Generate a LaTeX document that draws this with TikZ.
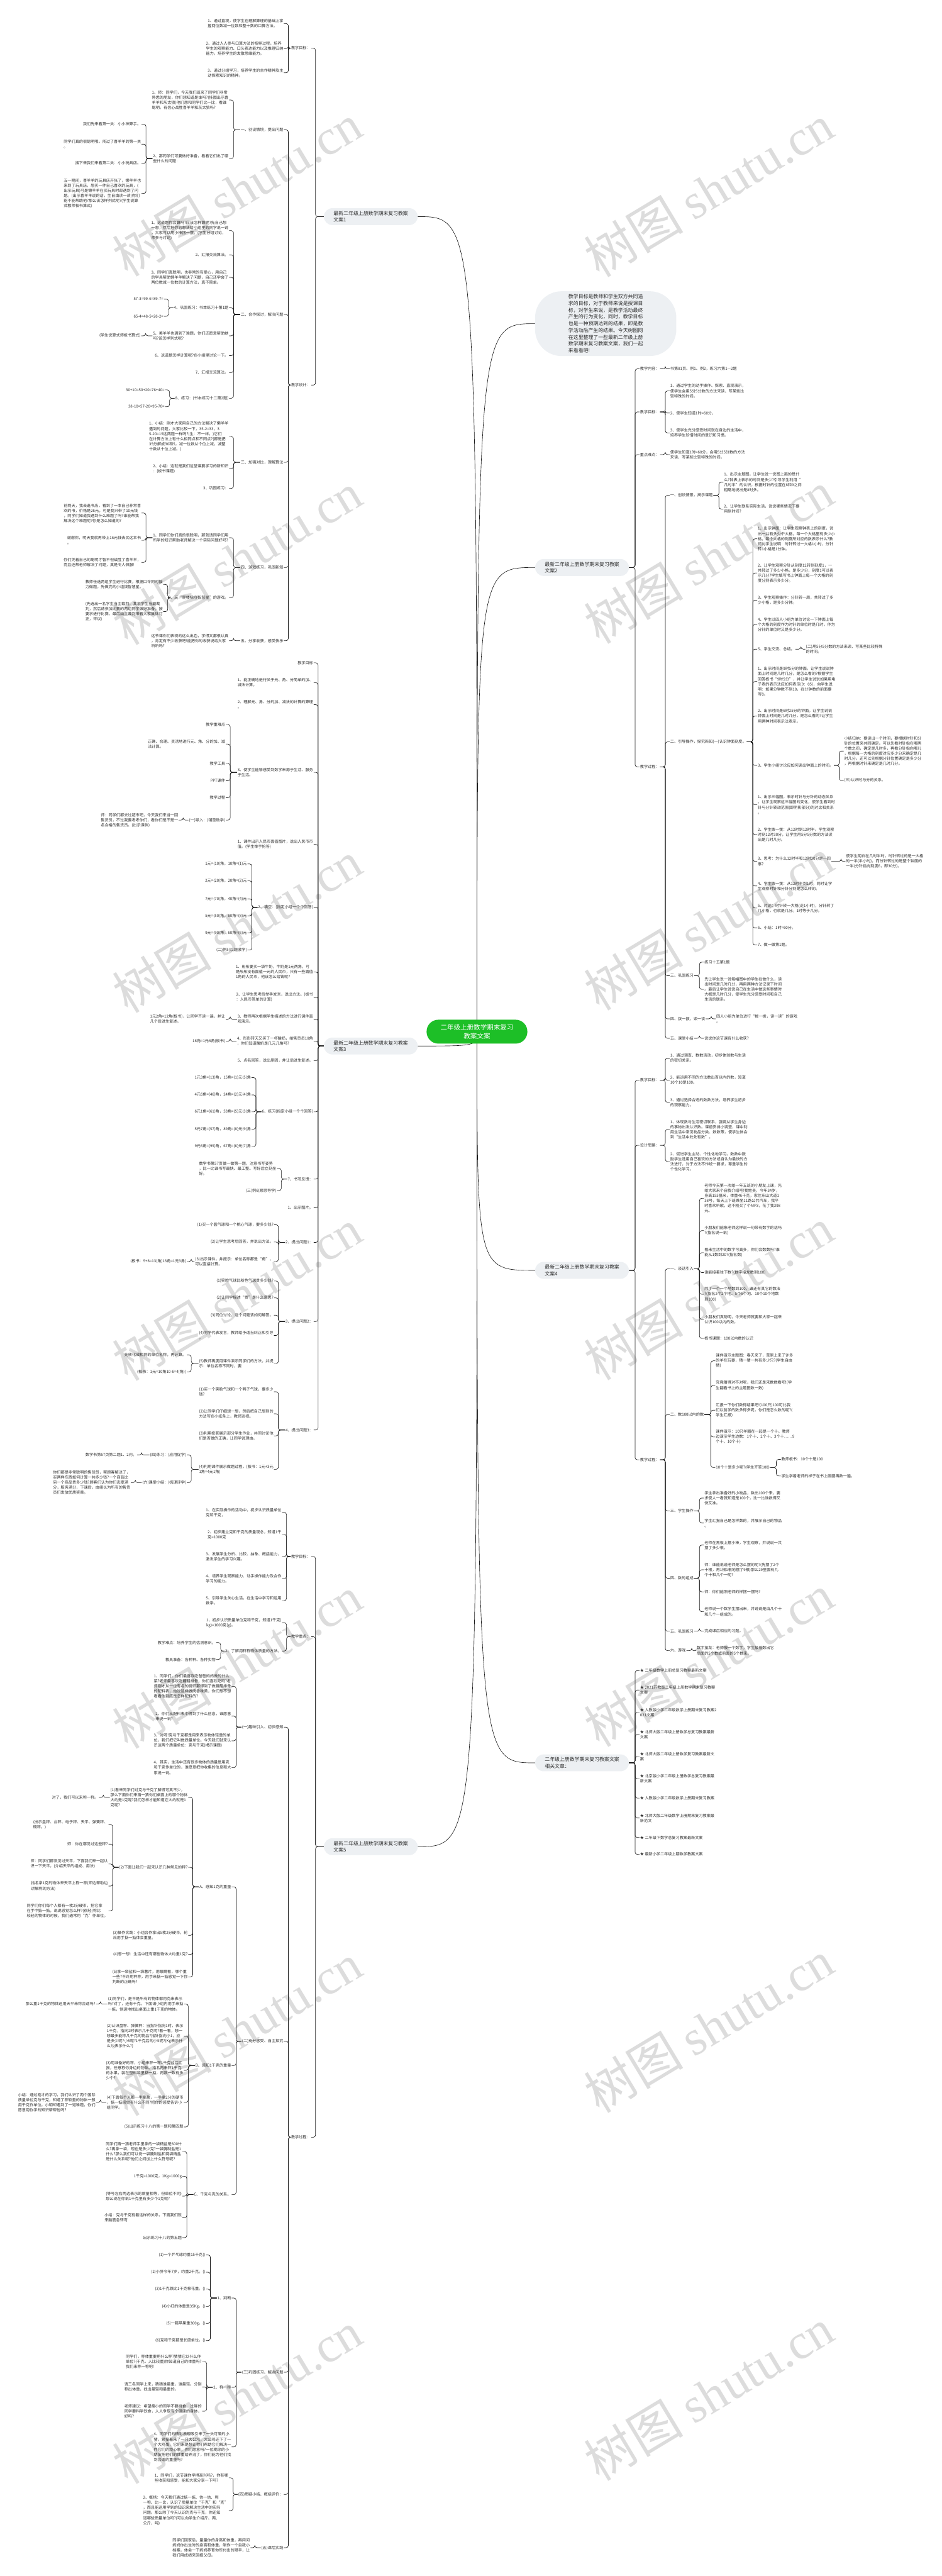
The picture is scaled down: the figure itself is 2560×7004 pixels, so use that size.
\documentclass[tikz,border=0pt]{standalone}
\usepackage{fontspec}
\setmainfont{Noto Sans CJK SC}
\newfontfamily\wmfont{Liberation Serif}
\usetikzlibrary{backgrounds}
\definecolor{txt}{RGB}{45,45,45}
\definecolor{linec}{RGB}{25,25,25}
\definecolor{lvlfill}{RGB}{237,240,243}
\definecolor{rootfill}{RGB}{29,191,39}
\definecolor{wmc}{RGB}{220,220,220}
\tikzset{
 leaf/.style={font=\fontsize{10.5}{13.8}\selectfont, align=left, text=txt, inner sep=1.5pt},
 lvl/.style={fill=lvlfill, rounded corners=23pt, minimum width=255pt, minimum height=46pt, font=\fontsize{13.5}{17.6}\selectfont, align=left, text=txt, inner xsep=22pt},
 rootnode/.style={fill=rootfill, rounded corners=32pt, minimum width=274pt, minimum height=65pt, font=\fontsize{18}{24.5}\selectfont, align=center, text=white},
 intronode/.style={fill=lvlfill, rounded corners=72pt, minimum width=384pt, minimum height=176pt, font=\fontsize{13.5}{18.4}\selectfont, align=left, text=txt},
 conn/.style={draw=linec, line width=1.1pt, rounded corners=6pt},
 rc/.style={to path={(\tikztostart.east) -| ([xshift=-12pt]\tikztotarget.west) -- (\tikztotarget.west)}},
 lc/.style={to path={(\tikztostart.west) -| ([xshift=12pt]\tikztotarget.east) -- (\tikztotarget.east)}},
 wm/.style={rotate=31, text=wmc, font=\fontsize{135}{135}\selectfont, inner sep=0pt},
}
\newcommand\nodeR[4]{\node[leaf,anchor=west] (#1) at (#2,#3) {#4};}
\newcommand\nodeL[4]{\node[leaf,anchor=east] (#1) at (#2,#3) {#4};}
\newcommand\conR[2]{\foreach \q in {#2}{\draw[conn] (#1) to[rc] (\q);}}
\newcommand\conL[2]{\foreach \q in {#2}{\draw[conn] (#1) to[lc] (\q);}}
\begin{document}
\begin{tikzpicture}[x=1pt,y=-1pt]
\useasboundingbox (0,0) rectangle (2560,7004);
% ---------- main nodes
\node[rootnode] (c) at (1297,2805) {二年级上册数学期末复习\\教案文案};
\node[intronode] (i) at (1647,880) {教学目标是教师和学生双方共同追\\求的目标，对于教师来说是授课目\\标，对学生来说，是教学活动最终\\产生的行为变化，同时，教学目标\\也是一种预期达到的结果，即是教\\学活动后产生的结果。今天树图网\\在这里整理了一些最新二年级上册\\数学期末复习教案文案，我们一起\\来看看吧!};
\node[lvl,anchor=east] (b1) at (1136,589) {最新二年级上册数学期末复习教案\\文案1};
\node[lvl,anchor=west] (b2) at (1455,1543) {最新二年级上册数学期末复习教案\\文案2};
\node[lvl,anchor=east] (b3) at (1136,2844) {最新二年级上册数学期末复习教案\\文案3};
\node[lvl,anchor=west] (b4) at (1455,3454) {最新二年级上册数学期末复习教案\\文案4};
\node[lvl,anchor=east] (b5) at (1136,5021) {最新二年级上册数学期末复习教案\\文案5};
\node[lvl,anchor=west] (b6) at (1455,4793) {二年级上册数学期末复习教案文案\\相关文章：};
\begin{scope}[on background layer]
\fill[white] (0,0) rectangle (2560,7004);
\foreach \yy in {516,1518,2520,3520,4520,5518,6518}{\node[wm] at (645,\yy) {树图 {\wmfont shutu.cn}};}
\foreach \yy in {518,1515,2512,3517,4514,5510,6510}{\node[wm] at (1927,\yy) {树图 {\wmfont shutu.cn}};}
\foreach \b in {b1,b3,b5}{\draw[conn] (c.center) .. controls (c.center |- \b.east) .. (\b.east);}
\foreach \b in {b2,b4,b6}{\draw[conn] (c.center) .. controls (c.center |- \b.west) .. (\b.west);}
\draw[conn] (c.center) .. controls (c.center |- i.west) .. (i.west);
\end{scope}
% ================= 文案2 (right)
\nodeR{b2a}{1739}{1003}{教学内容：}
\nodeR{b2a1}{1821}{1003}{书第81页、例1、例2，练习六第1—2题}
\nodeR{b2b}{1739}{1120}{教学目标：}
\nodeR{b2b1}{1821}{1063}{1、通过学生的动手操作、探索、直观演示，\\使学生会用5分5分数的方法来读、写某些比\\较特殊的时间。}
\nodeR{b2b2}{1821}{1123}{2、使学生知道1时=60分，}
\nodeR{b2b3}{1821}{1177}{3、使学生充分感受时间就在身边的生活中，\\培养学生珍惜时间的意识和习惯。}
\nodeR{b2c}{1739}{1236}{重点难点：}
\nodeR{b2c1}{1821}{1236}{使学生知道1时=60分，会用5分5分数的方法\\来读、写某些比较特殊的时间。}
\nodeR{b2d}{1739}{2085}{教学过程：}
\nodeR{b2d1}{1821}{1347}{一、创设情景，揭示课题}
\nodeR{b2d1a}{1967}{1311}{1、出示主题图。让学生说一说图上画的是什\\么?钟表上表示的时间是多少?引导学生利用“\\几时半”的认识，根据时针的位置在8和9之间\\粗略地说出是8时多。}
\nodeR{b2d1b}{1967}{1384}{2、让学生联系实际生活，说说哪些情况下要\\用到时间?}
\nodeR{b2d2}{1821}{2017}{二、引导操作，探究新知(一)认识钟面刻度。}
\nodeR{b2d2a}{2059}{1465}{1、出示钟面：让学生观察钟表上的刻度，说\\出一共有多少个大格，每一个大格里有多少小\\格，每个大格的刻度所对应的数表示什么?教\\师对学生说明：时针转过一大格1小时，分针\\转1小格是1分钟。}
\nodeR{b2d2b}{2059}{1558}{2、让学生观察分针从刻度12转到刻度1，一\\共转过了多少小格，是多少分，刻度1可以表\\示几分?学生填写书上钟面上每一个大格的刻\\度分别表示多少分。}
\nodeR{b2d2c}{2059}{1632}{3、学生观察操作：分针转一周，共转过了多\\少小格，是多少分钟。}
\nodeR{b2d2d}{2059}{1698}{4、学生以四人小组为单位讨论一下钟面上每\\个大格的刻度作为时针的单位时是几时，作为\\分针的单位时又是多少分。}
\nodeR{b2d2e}{2059}{1765}{5、学生交流、总结。}
\nodeR{b2d2e1}{2190}{1765}{(二)用5分5分数的方法来读、写某些比较特殊\\的时间。}
\nodeR{b2d2f}{2059}{1853}{1、出示时间是9时5分的钟面。让学生说说钟\\面上时间是几时几分，是怎么看的?根据学生\\回答板书“9时5分”，并让学生说说如果用电\\子表的表示法应如何表示(9：05)，向学生说\\明：如果分钟数不到10，在分钟数的前面要\\写0。}
\nodeR{b2d2g}{2059}{1947}{2、出示时间是6时25分的钟面。让学生说说\\钟面上时间是几时几分，是怎么看的?让学生\\用两种时间表示法表示。}
\nodeR{b2d2h}{2059}{2081}{3、学生小组讨论应如何读出钟面上的时间。}
\nodeR{b2d2h1}{2294}{2042}{小结归纳：要读出一个时间，要根据时针和分\\针的位置来共同确定。可以先看时针指在哪两\\个数之间，确定是几时多，再看分针指向哪儿\\，根据每一大格的刻度对应多少分来确定是几\\时几分。还可以先根据分针位置确定是多少分\\，再根据时针来确定是几时几分。}
\nodeR{b2d2h2}{2294}{2122}{(三)认识时与分的关系。}
\nodeR{b2d2i}{2059}{2188}{1、出示三幅图，表示时针与分针的动态关系\\。让学生观察这三幅图的变化，使学生看到时\\针与分针转动范围(即阴影部分)的对比和关系\\。}
\nodeR{b2d2j}{2059}{2269}{2、学生拨一拨：从12时到12时半。学生观察\\时刻12时30分，让学生用5分5分数的方法读\\出是几时几分。}
\nodeR{b2d2k}{2059}{2342}{3、思考：为什么12时半和12时30分是一回\\事?}
\nodeR{b2d2k1}{2299}{2342}{使学生明白在几时半时，时针转过的是一大格\\的一半(半小时)，而分针转过的是整个钟面的\\一半(分针指向刻度6，即30分)。}
\nodeR{b2d2l}{2059}{2409}{4、学生拨一拨：从12时半到1时。同时让学\\生观察时针和分针分别是怎么转的。}
\nodeR{b2d2m}{2059}{2469}{5、讨论：时针转一大格(走1小时)，分针转了\\几小格，也就是几分。1时等于几分。}
\nodeR{b2d2n}{2059}{2523}{6、小结：1时=60分。}
\nodeR{b2d2o}{2059}{2569}{7、做一做第1题。}
\nodeR{b2d3}{1821}{2653}{三、巩固练习}
\nodeR{b2d3a}{1914}{2616}{练习十五第1题}
\nodeR{b2d3b}{1914}{2690}{先让学生说一说每幅图中的学生在做什么，读\\出时间是几时几分，再用两种方法记录下时间\\。最后让学生说说自己在生活中做这些事情时\\大概是几时几分，使学生充分感受时间和自己\\生活的联系。}
\nodeR{b2d4}{1821}{2770}{四、拨一拨，读一读}
\nodeR{b2d4a}{1946}{2770}{四人小组为单位进行“拨一拨，读一读”的游戏\\。}
\nodeR{b2d5}{1821}{2823}{五、课堂小结}
\nodeR{b2d5a}{1914}{2823}{说说你这节课有什么收获?}
\conR{b2}{b2a,b2b,b2c,b2d}
\conR{b2a}{b2a1}
\conR{b2b}{b2b1,b2b2,b2b3}
\conR{b2c}{b2c1}
\conR{b2d}{b2d1,b2d2,b2d3,b2d4,b2d5}
\conR{b2d1}{b2d1a,b2d1b}
\conR{b2d2}{b2d2a,b2d2b,b2d2c,b2d2d,b2d2e,b2d2f,b2d2g,b2d2h,b2d2i,b2d2j,b2d2k,b2d2l,b2d2m,b2d2n,b2d2o}
\conR{b2d2e}{b2d2e1}
\conR{b2d2h}{b2d2h1,b2d2h2}
\conR{b2d2k}{b2d2k1}
\conR{b2d3}{b2d3a,b2d3b}
\conR{b2d4}{b2d4a}
\conR{b2d5}{b2d5a}
% ================= 文案4 (right)
\nodeR{b4a}{1739}{2937}{教学目标：}
\nodeR{b4a1}{1821}{2877}{1、通过调查、数数活动，初步体验数与生活\\的密切关系。}
\nodeR{b4a2}{1821}{2937}{2、能运用不同的方法数出百以内的数，知道\\10个10是100。}
\nodeR{b4a3}{1821}{2997}{3、通过选择合适的数数方法，培养学生初步\\的观察能力。}
\nodeR{b4b}{1739}{3114}{设计思路：}
\nodeR{b4b1}{1821}{3071}{1、体现数与生活密切联系，强调从学生身边\\的事物出发认识数。课前安排小调查，课中利\\用生活中常见物品分类、数数等，使学生体会\\到“生活中处处有数”。}
\nodeR{b4b2}{1821}{3158}{2、促进学生主动、个性化地学习。数数中鼓\\励学生选用自己喜欢的方法或自认为最快的方\\法进行，对于方法不作统一要求，尊重学生的\\个性化学习。}
\nodeR{b4c}{1739}{3969}{教学过程：}
\nodeR{b4c1}{1821}{3450}{一、谈话引入}
\nodeR{b4c1a}{1914}{3258}{老师今天第一次给一年五班的小朋友上课，先\\给大家来个自我介绍吧!我姓吴，今年34岁，\\身高155厘米，体重46千克，家住东山大道1\\38号，每天上下班乘坐11路公共汽车，我平\\时喜欢听歌，这不刚买了个MP3，花了我398\\元。}
\nodeR{b4c1b}{1914}{3346}{小朋友们能象老师这样说一句带有数字的话吗\\?(指名说一说)}
\nodeR{b4c1c}{1914}{3406}{看来生活中的数字可真多，你们会数数吗?谁\\能从1数到20?(指名数)}
\nodeR{b4c1d}{1914}{3460}{谁能接着往下数?(数字接龙数到100)}
\nodeR{b4c1e}{1914}{3519}{除了一个一个地数到100，谁还有其它的数法\\?(指名2个2个地、5个5个地、10个10个地数\\到100)}
\nodeR{b4c1f}{1914}{3587}{小朋友们真聪明，今天老师就要和大家一起来\\认识100以内的数。}
\nodeR{b4c1g}{1914}{3639}{板书课题：100以内数的认识}
\nodeR{b4c2}{1821}{3846}{二、数100以内的数}
\nodeR{b4c2a}{1945}{3700}{课件演示主题图：春天来了，草原上来了许多\\的羊在玩耍，猜一猜一共有多少只?(学生自由\\猜)}
\nodeR{b4c2b}{1945}{3767}{究竟猜得对不对呢，我们还是来数数看吧!(学\\生翻看书上的主题图数一数)}
\nodeR{b4c2c}{1945}{3834}{汇报一下你们数得结果吧!(100只)100可比我\\们以前学的数多得多呢，你们是怎么数的呢?(\\学生汇报)}
\nodeR{b4c2d}{1945}{3907}{课件演示：10只羊圈在一起是一个十。教师\\边演示学生边数：1个十、2个十、3个十……9\\个十、10个十)}
\nodeR{b4c2e}{1945}{3990}{10个十是多少呢?(学生齐答100)}
\nodeR{b4c2e1}{2123}{3968}{教师板书：10个十是100}
\nodeR{b4c2e2}{2123}{4013}{学生学着老师的样子在书上画圈再数一遍。}
\nodeR{b4c3}{1821}{4108}{三、学生操作}
\nodeR{b4c3a}{1914}{4073}{学生拿出准备好的小物品，数出100个来，要\\求使人一看就知道是100个，比一比谁数得又\\快又准。}
\nodeR{b4c3b}{1914}{4141}{学生汇报自己是怎样数的，并展示自己的物品\\。}
\nodeR{b4c4}{1821}{4291}{四、数的组成}
\nodeR{b4c4a}{1914}{4201}{老师在黑板上摆小棒，学生观察，并说说一共\\摆了多少根。}
\nodeR{b4c4b}{1914}{4268}{师：谁能说说老师是怎么摆的呢?(先摆了2个\\十根，再1根1根地摆了9根)那么29里面有几\\个十和几个一呢?}
\nodeR{b4c4c}{1914}{4328}{师：你们能照老师的样摆一摆吗?}
\nodeR{b4c4d}{1914}{4382}{老师说一个数学生摆出来，并说说是由几个十\\和几个一组成的。}
\nodeR{b4c5}{1821}{4435}{五、巩固练习}
\nodeR{b4c5a}{1914}{4435}{完成课后相应的习题。}
\nodeR{b4c6}{1821}{4488}{六、游戏}
\nodeR{b4c6a}{1893}{4488}{数字接龙：老师报一个数字，学生接着数出它\\后面的5个数或前面的5个数来。}
\conR{b4}{b4a,b4b,b4c}
\conR{b4a}{b4a1,b4a2,b4a3}
\conR{b4b}{b4b1,b4b2}
\conR{b4c}{b4c1,b4c2,b4c3,b4c4,b4c5,b4c6}
\conR{b4c1}{b4c1a,b4c1b,b4c1c,b4c1d,b4c1e,b4c1f,b4c1g}
\conR{b4c2}{b4c2a,b4c2b,b4c2c,b4c2d,b4c2e}
\conR{b4c2e}{b4c2e1,b4c2e2}
\conR{b4c3}{b4c3a,b4c3b}
\conR{b4c4}{b4c4a,b4c4b,b4c4c,b4c4d}
\conR{b4c5}{b4c5a}
\conR{b4c6}{b4c6a}
% ================= 相关文章 (right)
\nodeR{b6a}{1739}{4542}{★ 二年级数学上册总复习教案最新文案}
\nodeR{b6b}{1739}{4595}{★ 2021苏教版二年级上册数学期末复习教案\\文案}
\nodeR{b6c}{1739}{4656}{★ 人教版小学二年级数学上册期末复习教案2\\021文案}
\nodeR{b6d}{1739}{4716}{★ 北师大版二年级上册数学总复习教案最新\\文案}
\nodeR{b6e}{1739}{4776}{★ 北师大版二年级上册数学复习教案最新文\\案}
\nodeR{b6f}{1739}{4836}{★ 北京版小学二年级上册数学总复习教案最\\新文案}
\nodeR{b6g}{1739}{4889}{★ 人教版小学二年级数学上册期末复习教案}
\nodeR{b6h}{1739}{4943}{★ 北师大版二年级数学上册期末复习教案最\\新范文}
\nodeR{b6i}{1739}{4996}{★ 二年级下数学总复习教案最新文案}
\nodeR{b6j}{1739}{5042}{★ 最新小学二年级上期数学教案文案}
\conR{b6}{b6a,b6b,b6c,b6d,b6e,b6f,b6g,b6h,b6i,b6j}
% ================= 文案1 (left)
\nodeL{b1a}{846}{131}{教学目标：}
\nodeL{b1a1}{772}{64}{1、通过直观，使学生在理解算理的基础上掌\\握两位数减一位数和整十数的口算方法。}
\nodeL{b1a2}{772}{132}{2、通过人人参与口算方法的指导过程，培养\\学生的观察能力、口头表达能力以及推理归纳\\能力。培养学生的发散思维能力。}
\nodeL{b1a3}{772}{198}{3、通过分组学习，培养学生的合作精神及主\\动探索知识的精神。}
\nodeL{b1b}{846}{1047}{教学设计：}
\nodeL{b1b1}{772}{353}{一、创设情境，提出问题}
\nodeL{b1b1a}{623}{272}{1、师：同学们，今天我们班来了同学们非常\\熟悉的朋友，你们想知道是谁吗?(挂图出示喜\\羊羊和灰太狼)他们想和同学们比一比，看谁\\聪明。有信心战胜喜羊羊和灰太狼吗?}
\nodeL{b1b1b}{623}{431}{2、那同学们可要做好准备，看看它们出了哪\\些什么的问题：}
\nodeL{b1b1b1}{385}{338}{我们先来看第一关：小小神算手。}
\nodeL{b1b1b2}{385}{392}{同学们真的很聪明哦，闯过了喜羊羊的第一关\\。}
\nodeL{b1b1b3}{385}{444}{接下来我们来看第二关：小小玩具店。}
\nodeL{b1b1b4}{385}{526}{五一期间，喜羊羊的玩具店开张了，懒羊羊也\\来到了玩具店，想买一件自己喜欢的玩具，(\\出示玩具)可是懒羊羊在买玩具时却遇到了问\\题。(出示喜羊羊说的话，生自由读一读)你们\\能不能帮助他?那么该怎样列式呢?(学生说算\\式教师板书算式)}
\nodeL{b1b2}{772}{855}{二、合作探讨，解决问题}
\nodeL{b1b2a}{623}{627}{1、这道题你会算吗?应该怎样算呢?先自己想\\一想，然后把你的想法给小组里的同学说一说\\，大家可以用小棒摆一摆。(学生分组讨论，\\师参与讨论)}
\nodeL{b1b2b}{623}{693}{2、汇报交流算法。}
\nodeL{b1b2c}{623}{754}{3、同学们真聪明，也非常的有爱心，用自己\\的学具帮助懒羊羊解决了问题，自己还学会了\\两位数减一位数的计算方法，真不简单。}
\nodeL{b1b2d}{623}{837}{4、巩固练习：书本练习十第1题}
\nodeL{b1b2d1}{446}{813}{57-3=99-6=89-7=}
\nodeL{b1b2d2}{446}{860}{65-4=48-5=26-2=}
\nodeL{b1b2e}{623}{913}{5、美羊羊也遇到了难题，你们还愿意帮助她\\吗?该怎样列式呢?}
\nodeL{b1b2e1}{384}{913}{(学生说算式师板书算式)}
\nodeL{b1b2f}{623}{967}{6、这道题怎样计算呢?在小组里讨论一下。}
\nodeL{b1b2g}{623}{1013}{7、汇报交流算法。}
\nodeL{b1b2h}{623}{1083}{8、练习：(书本练习十二第2题)}
\nodeL{b1b2h1}{449}{1060}{30+10=50+20=76+40=}
\nodeL{b1b2h2}{449}{1106}{38-10=57-20=95-70=}
\nodeL{b1b3}{772}{1257}{三、加强对比，理解算法}
\nodeL{b1b3a}{623}{1187}{1、小结：刚才大家用自己的方法解决了懒羊羊\\遇到的问题，大家比较一下，35-2=33，3\\5-20=15这两题一样吗?(生：不一样。)它们\\在计算方法上有什么相同点和不同点?(都是把\\35分解成30和5，减一位数从个位上减，减整\\十数从十位上减。)}
\nodeL{b1b3b}{623}{1274}{2、小结：这就是我们这堂课要学习的新知识\\：(板书课题)}
\nodeL{b1b3c}{623}{1328}{3、巩固练习：}
\nodeL{b1b4}{772}{1543}{四、游戏练习，巩固新知}
\nodeL{b1b4a}{623}{1462}{1、同学们你们真的很聪明，那就请同学们用\\所学的知识帮助老师解决一个实际问题好吗?}
\nodeL{b1b4a1}{385}{1395}{前两天，我去逛书店，看到了一本自己非常喜\\欢的书，价格是26元，可是我只带了10元钱\\，同学们知道我遇到什么难题了吗?谁能帮我\\解决这个难题呢?你是怎么知道的?}
\nodeL{b1b4a2}{385}{1469}{谢谢你，明天我就再带上16元钱去买这本书\\。}
\nodeL{b1b4a3}{385}{1529}{你们凭着自己的聪明才智不但战胜了喜羊羊，\\而且还帮老师解决了问题，真是令人佩服!}
\nodeL{b1b4b}{623}{1625}{2、玩“爬楼梯夺智慧星”的游戏。}
\nodeL{b1b4b1}{444}{1589}{教师任选两组学生进行比赛，根据口令同时接\\力做题，先做完的小组拨智慧星。}
\nodeL{b1b4b2}{444}{1663}{(先选出一名学生当主裁判，其余学生当副裁\\判，然后请参加比赛的两组同学做好准备，按\\要求进行比赛。最后由主裁判带着大家集体订\\正，评议)}
\nodeL{b1b5}{772}{1742}{五、分享收获，感受快乐}
\nodeL{b1b5a}{623}{1742}{这节课你们表现的这么出色，学得又都很认真\\，肯定有不少收获吧!能把你的收获说给大家\\听听吗?}
\conL{b1}{b1a,b1b}
\conL{b1a}{b1a1,b1a2,b1a3}
\conL{b1b}{b1b1,b1b2,b1b3,b1b4,b1b5}
\conL{b1b1}{b1b1a,b1b1b}
\conL{b1b1b}{b1b1b1,b1b1b2,b1b1b3,b1b1b4}
\conL{b1b2}{b1b2a,b1b2b,b1b2c,b1b2d,b1b2e,b1b2f,b1b2g,b1b2h}
\conL{b1b2d}{b1b2d1,b1b2d2}
\conL{b1b2e}{b1b2e1}
\conL{b1b2h}{b1b2h1,b1b2h2}
\conL{b1b3}{b1b3a,b1b3b,b1b3c}
\conL{b1b4}{b1b4a,b1b4b}
\conL{b1b4a}{b1b4a1,b1b4a2,b1b4a3}
\conL{b1b4b}{b1b4b1,b1b4b2}
\conL{b1b5}{b1b5a}
% ================= 文案3 (left)
\nodeL{b3a}{853}{1802}{教学目标}
\nodeL{b3b}{853}{1856}{1、能正确地进行关于元、角、分简单的加、\\减法计算。}
\nodeL{b3c}{853}{1916}{2、理解元、角、分的加、减法的计算的算理\\。}
\nodeL{b3d}{853}{2100}{3、使学生能够感受到数学来源于生活、服务\\于生活。}
\nodeL{b3d1}{614}{1970}{教学重难点}
\nodeL{b3d2}{614}{2023}{正确、合理、灵活地进行元、角、分的加、减\\法计算。}
\nodeL{b3d3}{614}{2076}{教学工具}
\nodeL{b3d4}{614}{2123}{PPT课件}
\nodeL{b3d5}{614}{2169}{教学过程}
\nodeL{b3d6}{614}{2230}{(一)导入：(铺垫助学)}
\nodeL{b3d6a}{486}{2230}{师：同学们都去过超市吧，今天我们来当一回\\售货员，不过我要考考你们，看你们是不是一\\名合格的售货员。(出示课件)}
\nodeL{b3e}{853}{2296}{1、课件出示人民币面值图片，说出人民币币\\值。(学生举手抢答)}
\nodeL{b3f}{853}{2467}{2、填空：(指定小组一个个回答)}
\nodeL{b3f1}{673}{2349}{1元=(10)角，10角=(1)元}
\nodeL{b3f2}{673}{2395}{2元=(20)角，20角=(2)元}
\nodeL{b3f3}{673}{2444}{7元=(70)角，40角=(4)元}
\nodeL{b3f4}{673}{2490}{5元=(50)角，80角=(8)元}
\nodeL{b3f5}{673}{2536}{9元=(90)角，60角=(6)元}
\nodeL{b3f6}{673}{2583}{(二)例5(以趣激学)}
\nodeL{b3g}{853}{2643}{1、彤彤要买一袋牛奶，牛奶是1元两角，可\\是彤彤没有面值一元的人民币，只有一些面值\\1角的人民币，他该怎么给钱呢?}
\nodeL{b3h}{853}{2711}{2、让学生思考后举手发言，说出方法。(板书\\：人民币简单的计算)}
\nodeL{b3i}{853}{2771}{3、教师再次根据学生描述的方法进行课件直\\观演示。}
\nodeL{b3i1}{614}{2771}{1元2角=12角(板书)，让同学齐读一遍，并让\\几个后进生复述。}
\nodeL{b3j}{853}{2831}{4、彤彤转天又买了一杯酸奶，给售货员18角\\，你们知道酸奶是几元几角吗?}
\nodeL{b3j1}{614}{2831}{18角=1元8角(板书)}
\nodeL{b3k}{853}{2884}{5、点名回答，说出原因，并让后进生复述。}
\nodeL{b3l}{853}{3023}{6、练习(指定小组一个个回答)}
\nodeL{b3l1}{684}{2930}{1元3角=(13)角，15角=(1)元(5)角}
\nodeL{b3l2}{684}{2977}{4元6角=(46)角，24角=(2)元(4)角}
\nodeL{b3l3}{684}{3023}{6元1角=(61)角，53角=(5)元(3)角}
\nodeL{b3l4}{684}{3070}{5元7角=(57)角，89角=(8)元(9)角}
\nodeL{b3l5}{684}{3117}{9元5角=(95)角，67角=(6)元(7)角}
\nodeL{b3m}{853}{3206}{7、书写反馈：}
\nodeL{b3m1}{753}{3177}{数学书第57页做一做第一题，注意书写姿势\\，比一比谁书写最快、最工整。写好后立刻坐\\好。}
\nodeL{b3m2}{753}{3237}{(三)例6(顺思导学)}
\nodeL{b3n}{853}{3284}{1、出示图片。}
\nodeL{b3o}{853}{3378}{2、提出问题1：}
\nodeL{b3o1}{745}{3330}{(1)买一个圆气球和一个桃心气球，要多少钱?}
\nodeL{b3o2}{745}{3377}{(2)让学生思考后回答，并说出方法。}
\nodeL{b3o3}{745}{3430}{(3)出示课件，并提示：单位名称都是“角”，\\可以直接计算。}
\nodeL{b3o3a}{508}{3430}{(板书：5+8=13(角)13角=1元3角)}
\nodeL{b3p}{853}{3593}{3、提出问题2：}
\nodeL{b3p1}{745}{3483}{(1)笑脸气球比粉色气球贵多少钱?}
\nodeL{b3p2}{745}{3529}{(2)让同学描述“贵”是什么意思?}
\nodeL{b3p3}{745}{3576}{(3)同位讨论，这个问题该如何解答。}
\nodeL{b3p4}{745}{3631}{(4)同学代表发言，教师给予适当纠正和引导\\。}
\nodeL{b3p5}{745}{3707}{(5)教师再度用课件演示同学们的方法，并提\\示：单位名称不同时，要}
\nodeL{b3p5a}{508}{3684}{先转化成相同的单位名称，再计算。}
\nodeL{b3p5b}{508}{3730}{(板书：1元=10角10-6=4(角))}
\nodeL{b3q}{853}{3888}{4、提出问题3：}
\nodeL{b3q1}{745}{3784}{(1)买一个笑脸气球和一个鸭子气球，要多少\\钱?}
\nodeL{b3q2}{745}{3844}{(2)让同学们仔细想一想，然后把自己想到的\\方法写在小纸条上，教师巡视。}
\nodeL{b3q3}{745}{3904}{(3)利用投影展示部分学生作业，共同讨论他\\们是否做的正确，让同学说理由。}
\nodeL{b3q4}{745}{3995}{(4)利用课件展示做题过程，(板书：1元+3元\\1角=4元1角)}
\nodeL{b3q4a}{508}{3956}{(四)练习：(应用促学)}
\nodeL{b3q4a1}{373}{3956}{数学书第57页第二题1、2问。}
\nodeL{b3q4b}{508}{4031}{(六)课堂小结：(梳理评学)}
\nodeL{b3q4b1}{356}{4031}{你们都是非常聪明的售货员，帮顾客解决了，\\买两样东西如何计算一共多少钱?一个商品比\\另一个商品贵多少钱?顾客们认为你们态度满\\分，服务满分，下课后，由组长为所有的售货\\员们发放优质奖章。}
\conL{b3}{b3a,b3b,b3c,b3d,b3e,b3f,b3g,b3h,b3i,b3j,b3k,b3l,b3m,b3n,b3o,b3p,b3q}
\conL{b3d}{b3d1,b3d2,b3d3,b3d4,b3d5,b3d6}
\conL{b3d6}{b3d6a}
\conL{b3f}{b3f1,b3f2,b3f3,b3f4,b3f5,b3f6}
\conL{b3i}{b3i1}
\conL{b3j}{b3j1}
\conL{b3l}{b3l1,b3l2,b3l3,b3l4,b3l5}
\conL{b3m}{b3m1,b3m2}
\conL{b3o}{b3o1,b3o2,b3o3}
\conL{b3o3}{b3o3a}
\conL{b3p}{b3p1,b3p2,b3p3,b3p4,b3p5}
\conL{b3p5}{b3p5a,b3p5b}
\conL{b3q}{b3q1,b3q2,b3q3,b3q4}
\conL{b3q4}{b3q4a,b3q4b}
\conL{b3q4a}{b3q4a1}
\conL{b3q4b}{b3q4b1}
% ================= 文案5 (left)
\nodeL{b5a}{846}{4232}{教学目标：}
\nodeL{b5a1}{767}{4112}{1、在实际操作的活动中，初步认识质量单位\\克和千克，}
\nodeL{b5a2}{767}{4172}{2、初步建立克和千克的质量观念，知道1千\\克=1000克}
\nodeL{b5a3}{767}{4232}{3、发展学生分析、比较、抽象、概括能力，\\激发学生的学习兴趣。}
\nodeL{b5a4}{767}{4292}{4、培养学生观察能力、动手操作能力及合作\\学习的能力。}
\nodeL{b5a5}{767}{4352}{5、引导学生关心生活，在生活中学习和运用\\数学。}
\nodeL{b5b}{846}{4450}{教学重点：}
\nodeL{b5b1}{767}{4412}{1、初步认识质量单位克和千克，知道1千克(\\kg)=1000克(g)。}
\nodeL{b5b2}{767}{4489}{2、了解用秤称物体质量的方法。}
\nodeL{b5b2a}{588}{4466}{教学难点：培养学生的估测意识。}
\nodeL{b5b2b}{588}{4512}{教具准备：各种秤、各种实物}
\nodeL{b5c}{846}{5811}{教学过程：}
\nodeL{b5c1}{772}{4696}{(一)趣味引入、初步感知}
\nodeL{b5c1a}{630}{4585}{1、同学们，你们最喜欢吃爸爸妈妈做的什么\\菜?老师最喜欢吃糖醋排骨，你们喜欢吃吗?老\\师刚才从一位有名的厨师那得到了做糖醋排骨\\的配料表，他说这样做肉香味美，你们想不想\\看看他到底是怎样配料的?}
\nodeL{b5c1b}{630}{4666}{2、你们从配料表中得到了什么信息，谁愿意\\来说一说?}
\nodeL{b5c1c}{630}{4733}{3、对呀!克与千克都是用来表示物体轻重的单\\位，我们把它叫做质量单位。今天我们就来认\\识这两个质量单位：克与千克(揭示课题)}
\nodeL{b5c1d}{630}{4806}{4、其实，生活中还有很多物体的质量是用克\\和千克作单位的，谁愿意把你收集的信息和大\\家说一说。}
\nodeL{b5c2}{772}{5550}{(二)充分感受、自主探究}
\nodeL{b5c2a}{630}{5130}{A、感知1克的重量}
\nodeL{b5c2a1}{512}{4887}{(1)看来同学们对克与千克了解得可真不少，\\那么下面你们来猜一猜你们桌面上的哪个物体\\大约是1克呢?我们怎样才能知道它大约就是1\\克呢?}
\nodeL{b5c2a1a}{269}{4887}{对了，我们可以来称一称。}
\nodeL{b5c2a2}{512}{5077}{(2)下面让我们一起来认识几种常见的秤?}
\nodeL{b5c2a2a}{295}{4961}{(出示盘秤、台秤、电子秤、天平、弹簧秤、\\磅秤。)}
\nodeL{b5c2a2b}{295}{5014}{师：你在哪见过这些秤?}
\nodeL{b5c2a2c}{295}{5068}{师：同学们都没见过天平，下面我们来一起认\\识一下天平。(介绍天平的组成、用法)}
\nodeL{b5c2a2d}{295}{5128}{指名拿1克的物体来天平上称一称(师边帮助边\\讲解称的方法)}
\nodeL{b5c2a2e}{295}{5195}{同学们你们每个人都有一枚2分硬币，把它拿\\在手中掂一掂，说说感觉怎么样?(很轻)称比\\较轻的物体的时候，我们通常用“克”作单位。}
\nodeL{b5c2a3}{512}{5262}{(3)操作实践：小组合作拿出5枚2分硬币，轮\\流用手掂一掂体会重量。}
\nodeL{b5c2a4}{512}{5314}{(4)想一想：生活中还有哪些物体大约重1克?}
\nodeL{b5c2a5}{512}{5375}{(5)拿一袋盐和一袋薯片，用眼睛看，哪个重\\一些?不许用秤称，用手来掂一掂感觉一下你\\判断的正确吗?}
\nodeL{b5c2b}{630}{5616}{B、感知1千克的重量}
\nodeL{b5c2b1}{500}{5449}{(1)同学们，是不是所有的物体都用克来表示\\吗?对了，还有千克，下面请小组内用手来掂\\一掂，快速地找出桌面上重1千克的物体。}
\nodeL{b5c2b1a}{261}{5449}{那么重1千克的物体还用天平来称合适吗?}
\nodeL{b5c2b2}{500}{5536}{(2)认识盘秤、弹簧秤：当指针指向1时，表示\\1千克，指向2时表示几千克呢?看一看，想一\\想最多能称几千克的物品?指针指向小1，应\\是多少呢?小5呢?1千克后的小5呢?(Kg表示什\\么?g表示什么?)}
\nodeL{b5c2b3}{500}{5629}{(3)用准备好的秤，小组来秤一秤1千克盐后汇\\报，任意称你身边的物体。指名再来秤1千克\\的水果，装在塑料袋里掂一掂，再数一数有多\\少个?}
\nodeL{b5c2b4}{500}{5716}{(4)下面每个人都一手拿盐，一手拿2分的硬币\\，掂一掂感觉有什么不同?把你的感受告诉小\\组同学。}
\nodeL{b5c2b4a}{261}{5716}{小结：通过刚才的学习，我们认识了两个国际\\质量单位克与千克，知道了称较重的物体一般\\用千克作单位。小明却遇到了一道难题，你们\\愿意用你学的知识帮帮他吗?}
\nodeL{b5c2b5}{500}{5783}{(5)出示练习十八的第一题和第四题}
\nodeL{b5c2c}{630}{5967}{C、千克与克的关系。}
\nodeL{b5c2c1}{496}{5850}{同学们猜一猜老师手里拿的一袋精盐是500什\\么?再拿一袋，现在是多少克?一袋腌制盐是1\\什么?那么我们可以说一袋腌制盐和两袋精盐\\是什么关系呢?他们之间加上什么符号呢?}
\nodeL{b5c2c2}{496}{5917}{1千克=1000克，1Kg=1000g}
\nodeL{b5c2c3}{496}{5971}{(等号左右两边表示的质量相等，但单位不同)\\那么现在你说1千克里有多少个1克呢?}
\nodeL{b5c2c4}{496}{6030}{小结：克与千克有着这样的关系，下面我们就\\来脑筋急转弯}
\nodeL{b5c2c5}{496}{6084}{出示练习十八的第五题}
\nodeL{b5c3}{772}{6450}{(三)巩固练习、解决问题}
\nodeL{b5c3a}{630}{6248}{1、判断}
\nodeL{b5c3a1}{560}{6131}{(1)一个乒乓球约重15千克()}
\nodeL{b5c3a2}{560}{6178}{(2)小胖今年7岁，约重2千克。()}
\nodeL{b5c3a3}{560}{6224}{(3)1千克铁比1千克棉花重。()}
\nodeL{b5c3a4}{560}{6271}{(4)小红的体重是35Kg。()}
\nodeL{b5c3a5}{560}{6317}{(5)一箱苹果重300g。()}
\nodeL{b5c3a6}{560}{6364}{(6)克和千克都是长度单位。()}
\nodeL{b5c3b}{630}{6491}{2、称一称}
\nodeL{b5c3b1}{550}{6421}{同学们，称体重要用什么秤?猜猜它以什么作\\单位?(千克，人比较重)你知道自己的体重吗?\\我们来称一称吧!}
\nodeL{b5c3b2}{550}{6490}{请三名同学上来，猜猜谁最重，谁最轻。分别\\称出体重，找出最轻和最重的。}
\nodeL{b5c3b3}{550}{6556}{老师建议：希望瘦小的同学不要挑食，过胖的\\同学要科学饮食，人人争取有个健康的身体，\\好吗?}
\nodeL{b5c3c}{630}{6653}{4、同学们的精彩表现吸引来了一头可爱的小\\猪，紧接着来了一只大公鸡，大公鸡还下了一\\个大鸡蛋，它们来是想让你们帮助它们解决一\\件它们的烦心事，你们愿意吗?一位糊涂的小\\朋友把他们的体重给弄混了，你们能为他们找\\到合适的重量吗?}
\nodeL{b5c4}{772}{6782}{(四)质疑小结、概括评价：}
\nodeL{b5c4a}{622}{6737}{1、同学们，这节课你学得高兴吗?，你有哪\\些收获和感受，能和大家分享一下吗?}
\nodeL{b5c4b}{622}{6826}{2、概括：今天我们通过掂一掂、估一估、称\\一称、比一比，认识了质量单位“千克”和“克”\\，而且能运用学到的知识来解决生活中的实际\\问题。那么除了今天认识的克与千克，你还知\\道哪些质量单位吗?(可以向学生介绍斤、两、\\公斤、吨)}
\nodeL{b5c5}{772}{6927}{(五)课后实践}
\nodeL{b5c5a}{681}{6927}{同学们回家后，量量你的身高和体重，再问问\\妈妈你出生时的身高和体重，制作一个自我小\\档案，体会一下妈妈养育你所付出的艰辛，让\\我们用成绩来回报父母。}
\conL{b5}{b5a,b5b,b5c}
\conL{b5a}{b5a1,b5a2,b5a3,b5a4,b5a5}
\conL{b5b}{b5b1,b5b2}
\conL{b5b2}{b5b2a,b5b2b}
\conL{b5c}{b5c1,b5c2,b5c3,b5c4,b5c5}
\conL{b5c1}{b5c1a,b5c1b,b5c1c,b5c1d}
\conL{b5c2}{b5c2a,b5c2b,b5c2c}
\conL{b5c2a}{b5c2a1,b5c2a2,b5c2a3,b5c2a4,b5c2a5}
\conL{b5c2a1}{b5c2a1a}
\conL{b5c2a2}{b5c2a2a,b5c2a2b,b5c2a2c,b5c2a2d,b5c2a2e}
\conL{b5c2b}{b5c2b1,b5c2b2,b5c2b3,b5c2b4,b5c2b5}
\conL{b5c2b1}{b5c2b1a}
\conL{b5c2b4}{b5c2b4a}
\conL{b5c2c}{b5c2c1,b5c2c2,b5c2c3,b5c2c4,b5c2c5}
\conL{b5c3}{b5c3a,b5c3b,b5c3c}
\conL{b5c3a}{b5c3a1,b5c3a2,b5c3a3,b5c3a4,b5c3a5,b5c3a6}
\conL{b5c3b}{b5c3b1,b5c3b2,b5c3b3}
\conL{b5c4}{b5c4a,b5c4b}
\conL{b5c5}{b5c5a}
\end{tikzpicture}
\end{document}
